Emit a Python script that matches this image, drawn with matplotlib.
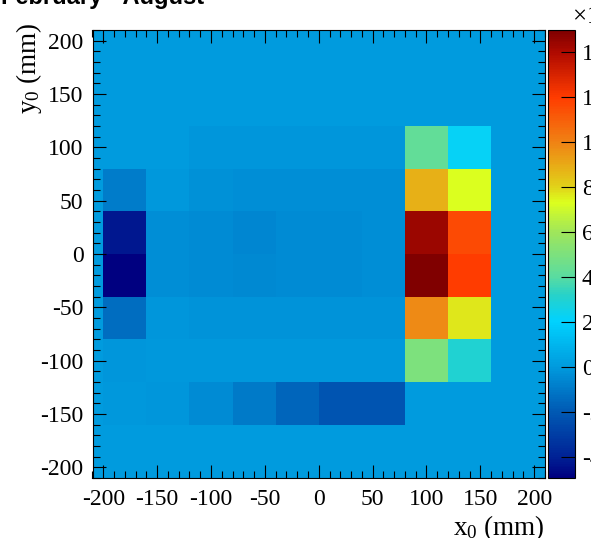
"""
Beam spot map, February - August: 2D histogram (colz style) with a
jet-like palette and ROOT-style frame.
"""

import numpy as np
import matplotlib
matplotlib.use("Agg")
import matplotlib.pyplot as plt
from matplotlib.colors import LinearSegmentedColormap, Normalize

plt.rcParams["font.family"] = ["Liberation Serif", "DejaVu Serif"]
plt.rcParams["mathtext.fontset"] = "custom"
plt.rcParams["mathtext.rm"] = "Liberation Serif"
plt.rcParams["mathtext.it"] = "Liberation Serif:italic"
plt.rcParams["axes.unicode_minus"] = False

# bin edges (mm)
x_edges = np.arange(-200, 201, 40)
y_edges = np.arange(-200, 201, 40)

# bin contents, rows listed from top (y 160..200) to bottom (y -200..-160)
z_rows = [
    [0, 0, 0, 0, 0, 0, 0, 0, 0, 0],
    [0, 0, 0, 0, 0, 0, 0, 0, 0, 0],
    [0, 0, -0.15, -0.15, -0.15, -0.15, -0.15, 4.2, 2.2, 0],
    [-0.9, -0.1, -0.3, -0.4, -0.4, -0.4, -0.4, 8.8, 7.3, 0],
    [-4.3, -0.35, -0.45, -0.65, -0.45, -0.45, -0.4, 14.4, 11.6, 0],
    [-4.95, -0.35, -0.45, -0.5, -0.45, -0.45, -0.4, 14.97, 12.0, 0],
    [-1.4, -0.15, -0.2, -0.25, -0.25, -0.25, -0.2, 9.8, 7.7, 0],
    [-0.15, -0.1, -0.1, -0.1, -0.1, -0.1, -0.1, 5.0, 3.0, 0],
    [-0.05, -0.15, -0.45, -1.0, -1.6, -2.2, -2.2, 0, 0, 0],
    [0, 0, 0, 0, 0, 0, 0, 0, 0, 0],
]

z_min, z_max = -4.95, 14.97
cbar_ticks = [-4, -2, 0, 2, 4, 6, 8, 10, 12, 14]

# palette: (value, colour)
palette = [
    (-4.95, "#000080"),
    (-4.0, "#002396"),
    (-2.0, "#005ab4"),
    (0.0, "#009bde"),
    (2.0, "#00d2ff"),
    (3.2, "#28d2c8"),
    (4.0, "#5adca0"),
    (6.0, "#a0e65a"),
    (7.3, "#dcff1e"),
    (8.0, "#e1d219"),
    (10.0, "#f08214"),
    (12.0, "#ff3c00"),
    (14.0, "#af0a00"),
    (14.97, "#800000"),
]

cmap = LinearSegmentedColormap.from_list(
    "root_jet",
    [((v - z_min) / (z_max - z_min), c) for v, c in palette], N=255)
norm = Normalize(vmin=z_min, vmax=z_max)

fig = plt.figure(figsize=(5.91, 5.38), dpi=100)
W, H = 591, 538

ax = fig.add_axes([92.5 / W, 60 / H, 452.5 / W, 448 / H])
cax = fig.add_axes([547.5 / W, 60 / H, 27.5 / W, 448 / H])

Z = np.flipud(np.array(z_rows))
ax.set_facecolor(cmap(norm(0)))
mesh = ax.pcolormesh(x_edges, y_edges, Z, cmap=cmap, norm=norm)

ax.set_xlim(-210, 210)
ax.set_ylim(-210, 210)
ax.set_xticks(np.arange(-200, 201, 50))
ax.set_yticks(np.arange(-200, 201, 50))
ax.set_xticks(np.arange(-210, 211, 10), minor=True)
ax.set_yticks(np.arange(-210, 211, 10), minor=True)
ax.tick_params(which="both", direction="in", top=True, right=True,
               width=0.8, labelsize=17)
ax.tick_params(axis="x", which="major", pad=8)
ax.tick_params(axis="y", which="major", pad=6.5)
ax.tick_params(which="major", length=9.5)
ax.tick_params(which="minor", length=4.8)
for s in ax.spines.values():
    s.set_linewidth(0.8)

cb = fig.colorbar(mesh, cax=cax, ticks=cbar_ticks)
cb.outline.set_linewidth(0.8)
cax.tick_params(direction="in", length=10, width=0.8, labelsize=17,
                pad=5)
cax.minorticks_off()
cax.set_yticklabels([str(t) for t in cbar_ticks])

fig.text(572 / W, 1 - 17 / H, r"$\times$10$^{-3}$", fontsize=18,
         ha="left", va="center")

# axis titles, right-aligned to the axis ends like ROOT
fig.text(545 / W, 1 - 535 / H, r"$\mathrm{x}_{0}$ (mm)", fontsize=19.5,
         ha="right", va="baseline")
fig.text(36 / W, 1 - 22 / H, r"$\mathrm{y}_{0}$ (mm)", fontsize=19.5,
         rotation=90, rotation_mode="anchor", ha="right", va="baseline")

fig.text(1 / W, 1 - 4 / H, "February - August", fontsize=17,
         fontweight="bold", family="Liberation Sans",
         ha="left", va="baseline")

fig.savefig("out.png", dpi=100)
